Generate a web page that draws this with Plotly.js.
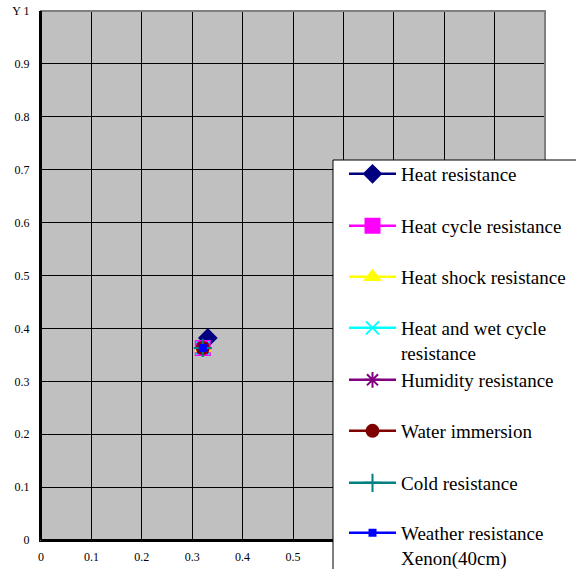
<!DOCTYPE html>
<html><head><meta charset="utf-8">
<script src="https://cdn.plot.ly/plotly-3.0.1.min.js"></script>
<style>html,body{margin:0;padding:0;background:#fff;}#chart{width:576px;height:569px;}</style>
</head><body><div id="chart"></div>
<script>
var seriesNames = ["Heat resistance","Heat cycle resistance","Heat shock resistance","Heat and wet cycle<br>resistance","Humidity resistance","Water immersion","Cold resistance","Weather resistance<br>Xenon(40cm)"];
var xValues = [0.331, 0.321, 0.321, 0.321, 0.321, 0.321, 0.321, 0.321];
var yValues = [0.382, 0.363, 0.363, 0.363, 0.363, 0.363, 0.363, 0.363];
var colors = ["#000080","#FF00FF","#FFFF00","#00FFFF","#800080","#800000","#008080","#0000FF"];
var symbols = ["diamond","square","triangle-up","x-thin-open","asterisk-open","circle","cross-thin-open","square"];
var sizes = [13,14,13,13,13,12,13,6];
var tickVals = [0,0.1,0.2,0.3,0.4,0.5,0.6,0.7,0.8,0.9,1];
// x labels 0.6 .. 1 are hidden behind the legend box in the reference
var xTickText = ["0","0.1","0.2","0.3","0.4","0.5","","","","",""];
var yTickText = ["0","0.1","0.2","0.3","0.4","0.5","0.6","0.7","0.8","0.9","Y 1"];

// layout geometry (pixels)
var W = 576, H = 569, ML = 41, MR = 31, MT = 11, MB = 29;
var plotW = W - ML - MR, plotH = H - MT - MB;
function px2x(p){ return (p - ML) / plotW; }
function py2y(p){ return (H - MB - p) / plotH; }
var legendRowsY = [174, 226, 277, 328, 380, 431, 483, 533];

var font = {family:'"Liberation Serif", "Times New Roman", serif', color:'#000'};
var traces = seriesNames.map(function(n,i){
  return {x:[xValues[i]], y:[yValues[i]], name:n, type:'scatter', mode:'lines+markers',
    legend: i === 0 ? 'legend' : 'legend' + (i+1),
    line:{color:colors[i], width:2.5},
    marker:{symbol:symbols[i], size:sizes[i], color:colors[i], line:{color:colors[i], width:2}}};
});
var layout = {
  width:W, height:H,
  margin:{l:ML, r:MR, t:MT, b:MB, autoexpand:false},
  paper_bgcolor:'#fff', plot_bgcolor:'#C0C0C0',
  showlegend:true,
  font:font,
  xaxis:{range:[0,1], tickvals:tickVals, ticktext:xTickText, showgrid:true, gridcolor:'#000', gridwidth:1,
    zeroline:false, showline:true, linecolor:'#000', linewidth:2, ticks:'', ticklabelstandoff:5,
    tickfont:{family:font.family, size:12, color:'#000'}, fixedrange:true, automargin:false},
  yaxis:{range:[0,1], tickvals:tickVals, ticktext:yTickText, showgrid:true, gridcolor:'#000', gridwidth:1,
    zeroline:false, showline:true, linecolor:'#000', linewidth:2, ticks:'', ticklabelstandoff:7,
    tickfont:{family:font.family, size:12, color:'#000'}, fixedrange:true, automargin:false},
  shapes:[{type:'rect', xref:'paper', yref:'paper', x0:0, x1:1, y0:0, y1:1, line:{color:'#808080', width:2}, layer:'above'},
          {type:'line', xref:'paper', yref:'paper', x0:0, x1:0, y0:0, y1:1, line:{color:'#000', width:2}, layer:'above'},
          {type:'line', xref:'paper', yref:'paper', x0:0, x1:1, y0:0, y1:0, line:{color:'#000', width:2}, layer:'above'},
          {type:'rect', xref:'paper', yref:'paper', x0:px2x(333), x1:px2x(590), y0:py2y(590), y1:py2y(160),
           fillcolor:'#fff', line:{color:'#000', width:1}, layer:'above'}]
};
legendRowsY.forEach(function(ry, i){
  var key = i === 0 ? 'legend' : 'legend' + (i+1);
  layout[key] = {x:px2x(344), y:py2y(ry - 19), xanchor:'left', yanchor:'top',
    bgcolor:'rgba(0,0,0,0)', borderwidth:0,
    font:{family:font.family, size:19, color:'#000'}, itemwidth:47, valign:'top',
    itemclick:false, itemdoubleclick:false};
});
Plotly.newPlot('chart', traces, layout, {displayModeBar:false, staticPlot:true});
</script></body></html>
